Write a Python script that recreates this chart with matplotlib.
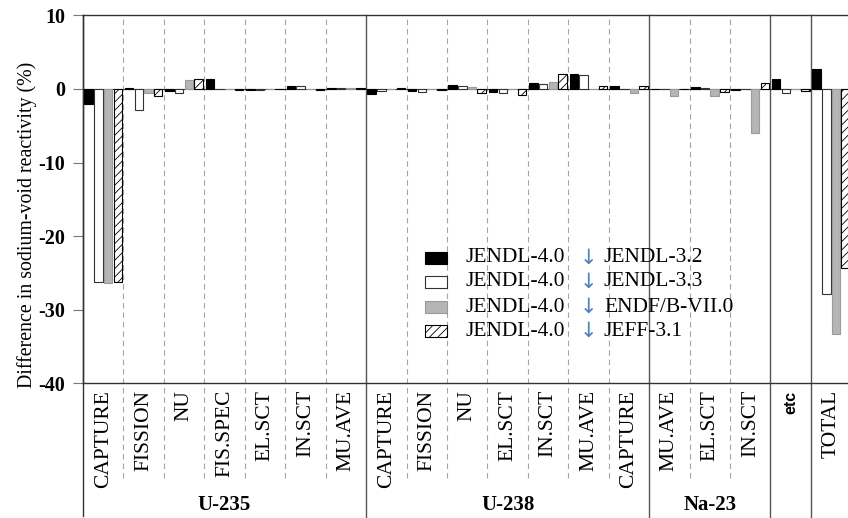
import numpy as np
import matplotlib
matplotlib.use("Agg")
import matplotlib.pyplot as plt
import matplotlib.transforms as mtransforms
from matplotlib.patches import Rectangle

# categories (left to right) and nuclide groups
categories = ["CAPTURE", "FISSION", "NU", "FIS.SPEC", "EL.SCT", "IN.SCT", "MU.AVE",
              "CAPTURE", "FISSION", "NU", "EL.SCT", "IN.SCT", "MU.AVE", "CAPTURE",
              "MU.AVE", "EL.SCT", "IN.SCT", "etc", "TOTAL"]
groups = ["U-235", "U-238", "Na-23"]
group_sizes = [7, 7, 3]

# difference (%) JENDL-4.0 vs each library
jendl32 = [-2.0, 0.1, -0.3, 1.4, -0.1, 0.45, 0.1, -0.7, -0.3, 0.5, -0.45, 0.75, 2.0, 0.45,
           0.0, 0.25, -0.1, 1.35, 2.7]
jendl33 = [-26.3, -2.9, -0.5, 0.0, -0.15, 0.4, 0.1, -0.3, -0.4, 0.4, -0.6, 0.7, 1.95, 0.05,
           0.05, 0.1, 0.0, -0.6, -27.9]
endf7 = [-26.4, -0.6, 1.2, 0.0, 0.0, 0.0, 0.1, 0.0, 0.0, 0.25, 0.0, 1.0, 0.0, -0.5,
         -0.9, -1.0, -6.0, -0.05, -33.3]
jeff31 = [-26.2, -0.9, 1.4, -0.15, 0.0, -0.1, 0.1, 0.1, -0.1, -0.55, -0.8, 2.0, 0.45, 0.45,
          0.0, -0.4, 0.85, -0.3, -24.3]
lib_names = ["JENDL-3.2", "JENDL-3.3", "ENDF/B-VII.0", "JEFF-3.1"]

plt.rcParams["font.family"] = ["Liberation Serif", "DejaVu Serif"]
plt.rcParams["hatch.linewidth"] = 0.6
plt.rcParams["axes.unicode_minus"] = False

W, H = 848, 518
fig = plt.figure(figsize=(W / 100, H / 100), dpi=100)
ax = fig.add_axes([83 / W, 1 - 383.3 / H, 765 / W, (383.3 - 15.3) / H])

styles = [dict(facecolor="black", edgecolor="black"),
          dict(facecolor="white", edgecolor="#333333"),
          dict(facecolor="#b5b5b5", edgecolor="#9a9a9a"),
          dict(facecolor="white", edgecolor="black", hatch="////")]
offsets = [-0.36, -0.12, 0.12, 0.36]
x = np.arange(len(categories))
for vals, off, st in zip([jendl32, jendl33, endf7, jeff31], offsets, styles):
    ax.bar(x + off, vals, width=0.21, linewidth=0.8, zorder=3, **st)

ax.axhline(0, color="#333333", lw=0.8, zorder=2)
ax.set_xlim(-0.5, -0.5 + 765 / 40.44)
ax.set_ylim(-40, 10)
ax.set_yticks([10, 0, -10, -20, -30, -40])
ax.set_xticks([])
ax.tick_params(axis="y", direction="out", length=7, width=0.8, color="#777777",
               labelsize=14.5, pad=6)
for lab in ax.get_yticklabels():
    lab.set_fontweight("bold")
ax.spines["right"].set_visible(False)
for s in ["left", "top", "bottom"]:
    ax.spines[s].set_color("#333333")
    ax.spines[s].set_linewidth(1.0)

ax.set_ylabel("Difference in sodium-void reactivity (%)", fontsize=14.3)
ax.yaxis.set_label_coords(-0.06, 0.43)

# dividers
solid = [-0.5]
c = -0.5
for n in group_sizes + [1]:
    c += n
    solid.append(c)
for b in np.arange(0.5, len(categories) - 1, 1.0):
    if b in solid:
        ax.axvline(b, ymin=-0.366, ymax=1, color="#555555", lw=1.0, clip_on=False, zorder=1)
    else:
        ax.axvline(b, ymin=-0.258, ymax=1, color="#a5a5a5", lw=0.8, ls=(0, (5, 3.5)),
                   clip_on=False, zorder=1)
ax.axvline(-0.5, ymin=-0.36, ymax=1, color="#333333", lw=1.0, clip_on=False)

# category and group labels
trans = mtransforms.blended_transform_factory(ax.transData, ax.transAxes)
for i, cat in enumerate(categories):
    if cat == "etc":
        ax.text(i, -0.02, cat, transform=trans, rotation=90, ha="center", va="top",
                fontsize=11.5, fontweight="bold", family="Liberation Sans")
    else:
        ax.text(i, -0.018, cat, transform=trans, rotation=90, ha="center", va="top",
                fontsize=15.5)
start = -0.5
for g, n in zip(groups, group_sizes):
    ax.text(start + n / 2, -0.33, g, transform=trans, ha="center", va="center",
            fontsize=15, fontweight="bold")
    start += n

# legend
rows = [258, 282, 307, 331]
for yy, st, name in zip(rows, styles, lib_names):
    fig.patches.append(Rectangle((425 / W, 1 - (yy + 6) / H), 22 / W, 12 / H,
                                 transform=fig.transFigure, linewidth=0.8, **st))
    fig.text(466 / W, 1 - yy / H, "JENDL-4.0", fontsize=15.5, va="center", ha="left")
    fig.text(588 / W, 1 - yy / H, "\u2193", fontsize=15, va="center", ha="center",
             color="#4f81bd", family="DejaVu Sans")
    fig.text(604 / W, 1 - yy / H, name, fontsize=15.5, va="center", ha="left")

fig.savefig("out.png", dpi=100)
